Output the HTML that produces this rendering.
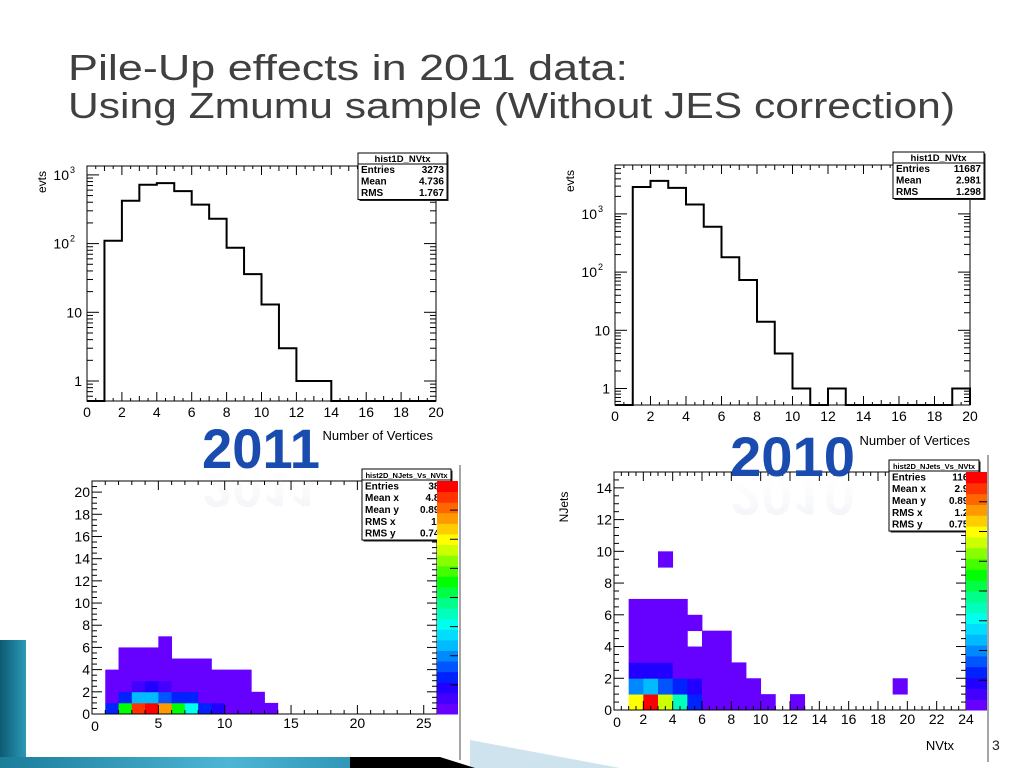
<!DOCTYPE html>
<html><head><meta charset="utf-8">
<style>
html,body{margin:0;padding:0;background:#fff;}
svg{display:block;font-family:"Liberation Sans",Arial,sans-serif;}
</style></head>
<body>
<svg id="root" width="1024" height="768" viewBox="0 0 1024 768" xmlns="http://www.w3.org/2000/svg">
<defs>
<linearGradient id="teal" x1="0" y1="0" x2="1" y2="0"><stop offset="0" stop-color="#0d5a72"/><stop offset="1" stop-color="#2a9ab8"/></linearGradient>
<linearGradient id="tealH" x1="0" y1="0" x2="1" y2="0"><stop offset="0" stop-color="#1a7d9a"/><stop offset="0.6" stop-color="#4fb5d4"/><stop offset="1" stop-color="#2a8fb0"/></linearGradient>
<linearGradient id="refl" x1="0" y1="0" x2="0" y2="1"><stop offset="0" stop-color="#8090b8" stop-opacity="0.35"/><stop offset="1" stop-color="#ffffff" stop-opacity="0"/></linearGradient>
</defs>
<g>
<polygon points="470,740 620,768 470,768" fill="#cfe3ee"/>
<rect x="0" y="640" width="26" height="128" fill="url(#teal)"/>
<rect x="0" y="757" width="380" height="11" fill="url(#tealH)"/>
<polygon points="350,757 440,757 475,768 350,768" fill="#000"/>
</g>
<text x="68" y="80" font-size="36" fill="#404040" textLength="560" lengthAdjust="spacingAndGlyphs">Pile-Up effects in 2011 data:</text>
<text x="68" y="118" font-size="36" fill="#404040" textLength="887" lengthAdjust="spacingAndGlyphs">Using Zmumu sample (Without JES correction)</text>
<g id="p1"></g>
<g id="p2"></g>
<g id="p3"></g>
<g id="p4"></g>
<line x1="460" y1="465" x2="460" y2="760" stroke="#888" stroke-width="1.5"/>
<line x1="988" y1="455" x2="988" y2="762" stroke="#888" stroke-width="1.5"/>
<text x="992" y="750" font-size="14" fill="#222">3</text>
<g>
<text x="202" y="468" font-size="56" font-weight="bold" fill="#1a4cb0" textLength="118" lengthAdjust="spacingAndGlyphs">2011</text>
<text x="202" y="468" font-size="56" font-weight="bold" fill="url(#refl)" transform="translate(0,936) scale(1,-1)" textLength="118" lengthAdjust="spacingAndGlyphs" opacity="0.4">2011</text>
</g>
<g>
<text x="730" y="476" font-size="56" font-weight="bold" fill="#1a4cb0" textLength="125" lengthAdjust="spacingAndGlyphs">2010</text>
<text x="730" y="476" font-size="56" font-weight="bold" fill="url(#refl)" transform="translate(0,952) scale(1,-1)" textLength="125" lengthAdjust="spacingAndGlyphs" opacity="0.4">2010</text>
</g>
</svg>
<script>
// ---- data ----
const binEdges = [0,1,2,3,4,5,6,7,8,9,10,11,12,13,14,15,16,17,18,19,20];
const counts2011 = [0,110,420,720,760,580,370,230,87,36,13,3,1,1,0,0,0,0,0,0];
const counts2010 = [0,2900,3700,2800,1450,600,180,73,14,4,1,0,1,0,0,0,0,0,0,1];
const xTicks1D = [0,2,4,6,8,10,12,14,16,18,20];
const stats2011 = [["Entries","3273"],["Mean","4.736"],["RMS","1.767"]];
const stats2010 = [["Entries","11687"],["Mean","2.981"],["RMS","1.298"]];
const stats2D2011 = [["Entries","389"],["Mean x","4.86"],["Mean y","0.891"],["RMS x","1.8"],["RMS y","0.742"]];
const stats2D2010 = [["Entries","1168"],["Mean x","2.98"],["Mean y","0.893"],["RMS x","1.29"],["RMS y","0.752"]];
// z-level grid (row = NJets bin, col = NVtx bin), -1 = empty
const zGrid2011 = [
 [-1,3,12,20,21,18,12,8,3,2,0,0,0,0],
 [-1,0,3,6,6,4,3,3,0,0,0,0,0,-1],
 [-1,0,0,1,2,1,0,0,0,0,0,0,-1,-1],
 [-1,0,0,0,0,0,0,0,0,0,0,0,-1,-1],
 [-1,-1,0,0,0,0,0,0,0,-1,-1,-1,-1,-1],
 [-1,-1,0,0,0,0,-1,-1,-1,-1,-1,-1,-1,-1],
 [-1,-1,-1,-1,-1,0,-1,-1,-1,-1,-1,-1,-1,-1]
];
const zGrid2010 = [
 [-1,16,21,15,9,3,0,0,0,0,0,-1,0,-1,-1,-1,-1,-1,-1,-1],
 [-1,5,6,4,3,2,0,0,0,0,-1,-1,-1,-1,-1,-1,-1,-1,-1,0],
 [-1,2,2,2,0,0,0,0,0,-1,-1,-1,-1,-1,-1,-1,-1,-1,-1,-1],
 [-1,0,0,0,0,0,0,0,-1,-1,-1,-1,-1,-1,-1,-1,-1,-1,-1,-1],
 [-1,0,0,0,0,-1,0,0,-1,-1,-1,-1,-1,-1,-1,-1,-1,-1,-1,-1],
 [-1,0,0,0,0,0,-1,-1,-1,-1,-1,-1,-1,-1,-1,-1,-1,-1,-1,-1],
 [-1,0,0,0,0,-1,-1,-1,-1,-1,-1,-1,-1,-1,-1,-1,-1,-1,-1,-1],
 [-1,-1,-1,-1,-1,-1,-1,-1,-1,-1,-1,-1,-1,-1,-1,-1,-1,-1,-1,-1],
 [-1,-1,-1,-1,-1,-1,-1,-1,-1,-1,-1,-1,-1,-1,-1,-1,-1,-1,-1,-1],
 [-1,-1,-1,0,-1,-1,-1,-1,-1,-1,-1,-1,-1,-1,-1,-1,-1,-1,-1,-1]
];
const xTicks2011 = [0,5,10,15,20,25];
const yTicks2011 = [0,2,4,6,8,10,12,14,16,18,20];
const xTicks2010 = [0,2,4,6,8,10,12,14,16,18,20,22,24];
const yTicks2010 = [0,2,4,6,8,10,12,14];
const palette = ['#6600ff','#4400ff','#2200ff','#0022ff','#0055ff','#0088ff','#00bbff','#00ddff','#00ffee','#00ffbb','#00ff88','#00ff44','#00ff00','#44ff00','#88ff00','#ccff00','#ffff00','#ffcc00','#ff9900','#ff6600','#ff3300','#ff0000'];

const NS="http://www.w3.org/2000/svg";
function mk(tag, attrs, parent){const e=document.createElementNS(NS,tag);for(const k in attrs)e.setAttribute(k,attrs[k]);parent.appendChild(e);return e;}
function line(p,x1,y1,x2,y2,w){return mk('line',{x1,y1,x2,y2,stroke:'#000','stroke-width':w||1},p);}

function statsBox(g,x,y,w,title,rows,rh,valRight){
  const b=mk('g',{},g);
  
  
  const h=12+rows.length*rh;
  mk('rect',{x:x+1.5,y:y+1.5,width:w,height:h,fill:'#222'},b);
  mk('rect',{x,y,width:w,height:h,fill:'#fff',stroke:'#000','stroke-width':1},b);
  line(b,x,y+11,x+w,y+11);
  const t=mk('text',{x:x+w/2,y:y+9,'font-size':title.length>12?7.5:9.5,'font-weight':'bold','text-anchor':'middle'},b);
  t.textContent=title;
  const vx=valRight||x+w-3;
  rows.forEach((r,i)=>{
    const a=mk('text',{x:x+3,y:y+11+rh*(i+0.8),'font-size':10,'font-weight':'bold'},b);a.textContent=r[0];
    const v=mk('text',{x:vx,y:y+11+rh*(i+0.8),'font-size':10,'font-weight':'bold','text-anchor':'end'},b);v.textContent=r[1];
  });
}

function hist1D(gid,F,counts,stats,sb,xlab){
  const g=document.getElementById(gid);
  const xs=v=>F.x0+(v-0)/(20)*(F.x1-F.x0);
  const ly=v=>F.yDec0-(Math.log10(v))*F.dec;
  mk('rect',{x:F.x0,y:F.y0,width:F.x1-F.x0,height:F.y1-F.y0,fill:'#fff',stroke:'#000','stroke-width':1},g);
  for(let v=0;v<=20.001;v+=0.5){const maj=Math.abs(v%2)<1e-6;const L=maj?9:(Math.abs(v%1)<1e-6?5:3);
    line(g,xs(v),F.y1,xs(v),F.y1-L);line(g,xs(v),F.y0,xs(v),F.y0+L);}
  xTicks1D.forEach(v=>{const t=mk('text',{x:xs(v),y:F.y1+16,'font-size':14,'text-anchor':'middle'},g);
    t.textContent=v;});
  for(let d=-1;d<=4;d++){for(let m=1;m<10;m++){const v=m*Math.pow(10,d);const y=ly(v);if(y<F.y0||y>F.y1)continue;
    const L=m===1?12:6;line(g,F.x0,y,F.x0+L,y);line(g,F.x1,y,F.x1-L,y);}}
  const labs=[['1',0],['10',1],['10',2],['10',3]];
  labs.forEach(([s,d])=>{const y=ly(Math.pow(10,d));if(y<F.y0)return;
    const t=mk('text',{x:d>=2?F.x0-18:F.x0-5,y:y+5,'font-size':14,'text-anchor':'end'},g);
    t.textContent=s;
    if(d>=2){const s2=mk('text',{x:F.x0-17,y:y-2,'font-size':9},g);s2.textContent=d;}});
  let dstr='M'+xs(0)+','+F.y1;
  counts.forEach((c,i)=>{const y=c>0?Math.min(ly(c),F.y1):F.y1;dstr+=' L'+xs(binEdges[i])+','+y+' L'+xs(binEdges[i+1])+','+y;});
  dstr+=' L'+xs(20)+','+F.y1;
  const p=mk('path',{d:dstr,fill:'none',stroke:'#000','stroke-width':2},g);
  
  
  const yl=mk('text',{x:0,y:0,'font-size':12,transform:`translate(${F.x0-41},${F.y0+16}) rotate(-90)`,'text-anchor':'middle'},g);
  yl.textContent='evts';
  const xl=mk('text',{x:xlab[0],y:xlab[1],'font-size':13,'text-anchor':'end'},g);
  xl.textContent='Number of Vertices';
  statsBox(g,sb[0],sb[1],sb[2],'hist1D_NVtx',stats,11.5);
}

function hist2D(gid,F,grid,xT,yT,xmax,ymax,stats,sb,xminor,yminor,axisTitles){
  const g=document.getElementById(gid);
  const xs=v=>F.x0+v/xmax*(F.x1-F.x0);
  const ys=v=>F.y1-v/ymax*(F.y1-F.y0);
  mk('rect',{x:F.x0,y:F.y0,width:F.x1-F.x0,height:F.y1-F.y0,fill:'#fff'},g);
  grid.forEach((row,j)=>row.forEach((z,i)=>{if(z<0)return;
    const c=mk('rect',{x:xs(i),y:ys(j+1),width:xs(i+1)-xs(i)+0.4,height:ys(j)-ys(j+1)+0.4,fill:palette[z]},g);
    
    }));
  mk('rect',{x:F.x0,y:F.y0,width:F.x1-F.x0,height:F.y1-F.y0,fill:'none',stroke:'#000','stroke-width':1},g);
  for(let v=0;v<=xmax+1e-6;v+=xminor){const maj=xT.some(t=>Math.abs(t-v)<1e-6);const L=maj?9:4;
    line(g,xs(v),F.y1,xs(v),F.y1-L);line(g,xs(v),F.y0,xs(v),F.y0+L);}
  for(let v=0;v<=ymax+1e-6;v+=yminor){const maj=yT.some(t=>Math.abs(t-v)<1e-6);const L=maj?10:5;
    line(g,F.x0,ys(v),F.x0+L,ys(v));line(g,F.x1,ys(v),F.x1-L,ys(v));}
  xT.forEach(v=>{const t=mk('text',{x:xs(v)+(v===0?3:0),y:F.y1+14+(v===0?3:0),'font-size':14,'text-anchor':'middle'},g);
    t.textContent=v;});
  yT.forEach(v=>{const t=mk('text',{x:F.x0-2,y:ys(v)+5,'font-size':14,'text-anchor':'end'},g);
    t.textContent=v;});
  statsBox(g,sb[0],sb[1],sb[2],'hist2D_NJets_Vs_NVtx',stats,11.8,F.x1+8);
  const pg=mk('g',{},g);
  
  
  const n=palette.length, h=(F.y1-F.y0)/n;
  palette.forEach((c,k)=>mk('rect',{x:F.x1,y:F.y1-(k+1)*h,width:F.pw,height:h+0.5,fill:c},pg));
  for(let k=1;k<8;k++){const y=F.y1-k*(F.y1-F.y0)/8;line(pg,F.x1+F.pw-8,y,F.x1+F.pw,y);}
  if(axisTitles){
    const yl=mk('text',{x:0,y:0,'font-size':12,transform:`translate(${F.x0-46},${F.y0+35}) rotate(-90)`,'text-anchor':'middle'},g);
    yl.textContent='NJets';
    const xl=mk('text',{x:F.x1-12,y:F.y1+40,'font-size':13,'text-anchor':'end'},g);
    xl.textContent='NVtx';
  }
}

hist1D('p1',{x0:87,x1:436,y0:166,y1:401,yDec0:381,dec:68.7},counts2011,stats2011,[358,153,89],[433,440]);
hist1D('p2',{x0:615,x1:970,y0:165,y1:405,yDec0:388.5,dec:58.2},counts2010,stats2010,[893,152,91],[970,445]);
hist2D('p3',{x0:92,x1:437,y0:481,y1:714,pw:21},zGrid2011,xTicks2011,yTicks2011,26,21,stats2D2011,[362,469,89],1,0.5,false);
hist2D('p4',{x0:614,x1:966,y0:472,y1:710,pw:21},zGrid2010,xTicks2010,yTicks2010,24,15,stats2D2010,[889,460,90],0.5,0.5,true);
</script>
</body></html>
